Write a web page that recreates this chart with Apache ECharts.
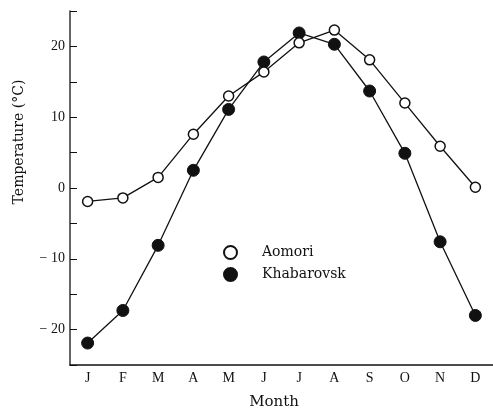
<!DOCTYPE html>
<html><head><meta charset="utf-8">
<script src="https://cdn.jsdelivr.net/npm/echarts@6/dist/echarts.min.js"></script>
<style>html,body{margin:0;padding:0;background:#fff}#c{width:493px;height:411px}</style>
</head><body><div id="c"></div>
<script>
const months = ['J','F','M','A','M','J','J','A','S','O','N','D'];
const aomori = [-1.9, -1.4, 1.5, 7.6, 13.0, 16.4, 20.5, 22.3, 18.1, 12.0, 5.9, 0.1];
const khabarovsk = [-21.9, -17.3, -8.1, 2.5, 11.1, 17.8, 21.9, 20.3, 13.7, 4.9, -7.6, -18.0];
const seriesNames = ['Aomori', 'Khabarovsk'];
const yTitle = 'Temperature (°C)';
const xTitle = 'Month';

const font = '"Liberation Serif", "DejaVu Serif", serif';
const wfont = '"DejaVu Serif", "Liberation Serif", serif';
const chart = echarts.init(document.getElementById('c'));
chart.setOption({
  animation: false,
  backgroundColor: '#fff',
  textStyle: { fontFamily: font, color: '#111' },
  grid: { left: 70, top: 11, width: 423, bottom: 46 },
  legend: {
    orient: 'vertical', left: 223, top: 245, padding: 0, itemGap: 7, itemWidth: 13, itemHeight: 13,
    icon: 'circle',
    textStyle: { fontFamily: wfont, fontSize: 14, color: '#111', padding: [0,0,0,20] },
    data: seriesNames
  },
  xAxis: {
    type: 'category', data: months, boundaryGap: true,
    axisLine: { onZero: false, lineStyle: { color: '#111', width: 1.5 } },
    axisTick: { inside: true, alignWithLabel: true, length: 5, lineStyle: { color: '#111' } },
    axisLabel: { fontFamily: font, fontSize: 14, color: '#111', margin: 6 }
  },
  yAxis: {
    type: 'value', min: -25, max: 25, interval: 5,
    axisLine: { show: true, lineStyle: { color: '#333', width: 1.5 } },
    axisTick: { show: true, inside: true, length: 7, lineStyle: { color: '#111' } },
    splitLine: { show: false },
    axisLabel: { fontFamily: font, fontSize: 14, color: '#111', margin: 5,
      formatter: v => (v % 10 === 0 && v > -25 && v < 25) ? (v < 0 ? '\u2212 ' + (-v) : String(v)) : '' }
  },
  graphic: [{
    type: 'text', x: 19, y: 142, rotation: Math.PI / 2,
    style: { text: yTitle, font: '14px ' + wfont, fill: '#111', align: 'center', verticalAlign: 'middle' }
  }, {
    type: 'text', x: 274, y: 402,
    style: { text: xTitle, font: '15px ' + wfont, fill: '#111', align: 'center', verticalAlign: 'middle' }
  }],
  series: [
    { name: seriesNames[0], type: 'line', data: aomori, symbol: 'circle', symbolSize: 10,
      lineStyle: { color: '#111', width: 1.3 },
      itemStyle: { color: '#fff', borderColor: '#111', borderWidth: 1.5 }, z: 3 },
    { name: seriesNames[1], type: 'line', data: khabarovsk, symbol: 'circle', symbolSize: 12,
      lineStyle: { color: '#111', width: 1.3 },
      itemStyle: { color: '#111', borderColor: '#111', borderWidth: 1 }, z: 2 }
  ]
});
</script></body></html>
